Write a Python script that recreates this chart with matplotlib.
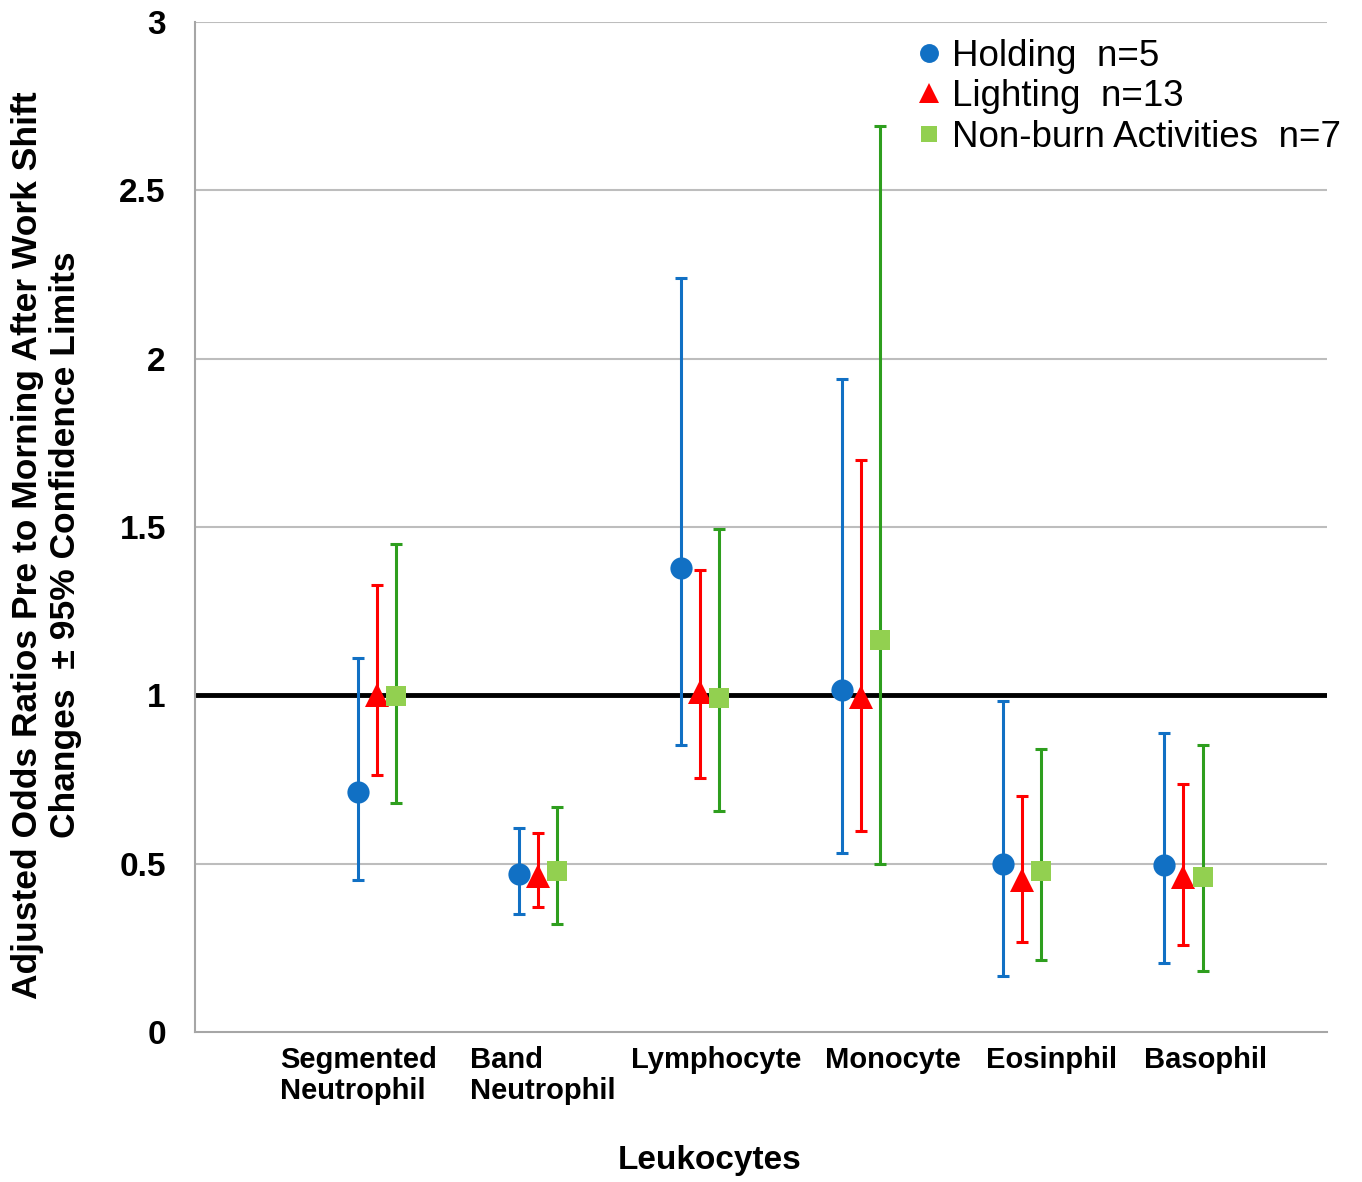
import matplotlib
matplotlib.use("Agg")
import matplotlib.pyplot as plt
import numpy as np

categories = ["Segmented\nNeutrophil", "Band\nNeutrophil", "Lymphocyte", "Monocyte", "Eosinphil", "Basophil"]
series = ["Holding  n=5", "Lighting  n=13", "Non-burn Activities  n=7"]

holding = [0.713, 0.469, 1.378, 1.016, 0.499, 0.496]
holding_lo = [0.451, 0.350, 0.852, 0.532, 0.166, 0.205]
holding_hi = [1.111, 0.606, 2.239, 1.939, 0.983, 0.888]

lighting = [1.000, 0.463, 1.010, 0.995, 0.451, 0.460]
lighting_lo = [0.763, 0.371, 0.754, 0.597, 0.267, 0.258]
lighting_hi = [1.328, 0.591, 1.372, 1.699, 0.701, 0.737]

nonburn = [0.998, 0.478, 0.992, 1.164, 0.478, 0.460]
nonburn_lo = [0.680, 0.321, 0.656, 0.499, 0.214, 0.181]
nonburn_hi = [1.449, 0.668, 1.494, 2.691, 0.841, 0.852]

yticks = [0, 0.5, 1, 1.5, 2, 2.5, 3]
ytick_labels = ["0", "0.5", "1", "1.5", "2", "2.5", "3"]

plt.rcParams["font.family"] = ["Liberation Sans", "DejaVu Sans"]

fig = plt.figure(figsize=(13.62, 11.82), dpi=100)
ax = fig.add_axes([195/1362, 150/1182, 1132/1362, 1010/1182])

x = np.arange(1, len(categories) + 1)
off = 0.118

specs = [
    (holding, holding_lo, holding_hi, -off, "o", "#1170C4", "#1170C4", 16),
    (lighting, lighting_lo, lighting_hi, 0.0, "^", "#FF0000", "#FF0000", 17),
    (nonburn, nonburn_lo, nonburn_hi, off, "s", "#92D050", "#2E9E1E", 14),
]
handles = []
for (vals, lo, hi, dx, mk, mc, ec, ms), name in zip(specs, series):
    vals = np.array(vals); lo = np.array(lo); hi = np.array(hi)
    ax.errorbar(x + dx, vals, yerr=[vals - lo, hi - vals], fmt="none",
                ecolor=ec, elinewidth=2.2, capsize=4.5, capthick=2.2, zorder=3)
    h, = ax.plot(x + dx, vals, linestyle="none", marker=mk, markersize=ms,
                 color=mc, markeredgewidth=0, zorder=4, label=name)
    handles.append(h)

ax.set_xlim(-0.13, 6.89)
ax.set_ylim(0, 3)
ax.set_yticks(yticks)
ax.set_yticklabels(ytick_labels, fontsize=24, fontweight="bold")
for yv in yticks:
    if yv not in (0, 1):
        ax.axhline(yv, color="#BDBDBD", linewidth=1.5, zorder=1)
ax.axhline(1, color="black", linewidth=3.5, zorder=2)

label_pos = [0.885, 2.03, 3.103, 4.2, 5.18, 6.14]
ax.set_xticks(label_pos)
ax.set_xticklabels(categories, fontsize=21, fontweight="bold",
                   multialignment="left", linespacing=1.15)
ax.tick_params(axis="x", length=0, pad=10)
ax.tick_params(axis="y", length=0, pad=21)

for s in ["top", "right"]:
    ax.spines[s].set_visible(False)
for s in ["left", "bottom"]:
    ax.spines[s].set_color("#A6A6A6")
    ax.spines[s].set_linewidth(1.5)

fig.text(710/1362, 1 - 1160/1182, "Leukocytes", ha="center", va="center",
         fontsize=24, fontweight="bold")
fig.text(0.034, 0.539, "Adjusted Odds Ratios Pre to Morning After Work Shift\nChanges  \u00b1 95% Confidence Limits",
         rotation=90, ha="center", va="center", fontsize=25.5, fontweight="bold",
         linespacing=1.2)

ax.legend(handles=handles, loc="upper right", bbox_to_anchor=(1.025, 0.998), frameon=False,
          fontsize=26.5, handlelength=0.6, handletextpad=0.3, labelspacing=0.15,
          markerscale=0.85, borderaxespad=0)

fig.savefig("out.png", dpi=100, facecolor="white")
